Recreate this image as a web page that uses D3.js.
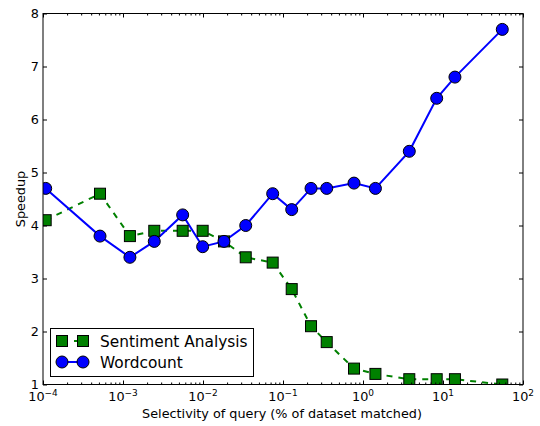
<!DOCTYPE html>
<html>
<head>
<meta charset="utf-8">
<script src="https://cdn.jsdelivr.net/npm/d3@7"></script>
<style>
  html, body { margin: 0; padding: 0; background: #fff; }
  svg { display: block; font-family: "DejaVu Sans", sans-serif; }
</style>
</head>
<body>
<svg id="chart" width="540" height="426"></svg>
<script>
// Query selectivity (% of dataset matched), shared by both workloads
const selectivity = [0.000108, 0.000516, 0.00122, 0.00246, 0.00557, 0.0099, 0.0183, 0.0342,
                     0.0743, 0.1285, 0.224, 0.352, 0.772, 1.43, 3.79, 8.34, 14.1, 55.1];
// Speedup per workload
const sentimentSpeedup = [4.1, 4.6, 3.8, 3.9, 3.9, 3.9, 3.7, 3.4, 3.3, 2.8, 2.1, 1.8, 1.3, 1.2, 1.1, 1.1, 1.1, 1.0];
const wordcountSpeedup = [4.7, 3.8, 3.4, 3.7, 4.2, 3.6, 3.7, 4.0, 4.6, 4.3, 4.7, 4.7, 4.8, 4.7, 5.4, 6.4, 6.8, 7.7];
// Axis ticks
const xMajorTicks = [1e-4, 1e-3, 1e-2, 1e-1, 1e0, 1e1, 1e2];
const xTickExponents = ["\u22124", "\u22123", "\u22122", "\u22121", "0", "1", "2"];
const yTicks = [1, 2, 3, 4, 5, 6, 7, 8];
const seriesNames = ["Sentiment Analysis", "Wordcount"];

const svg = d3.select("#chart");
const L = 43, R = 523, T = 13.5, B = 384.5;
const fontSize = 12.8, legendFontSize = 15.36;

const x = d3.scaleLog().domain([1e-4, 1e2]).range([L, R]);
const y = d3.scaleLinear().domain([1, 8]).range([B, T]);

// minor ticks 2..9 within each decade
const xMinorTicks = [];
for (let e = -4; e < 2; e++) for (let m = 2; m <= 9; m++) xMinorTicks.push(m * Math.pow(10, e));

svg.append("defs").append("clipPath").attr("id", "plotClip")
  .append("rect").attr("x", L).attr("y", T).attr("width", R - L).attr("height", B - T);

const plot = svg.append("g").attr("clip-path", "url(#plotClip)");

const sentiment = selectivity.map((s, i) => ({ s, v: sentimentSpeedup[i] }));
const wordcount = selectivity.map((s, i) => ({ s, v: wordcountSpeedup[i] }));
const line = d3.line().x(d => x(d.s)).y(d => y(d.v));

// Sentiment Analysis: green dashed line with squares
plot.append("path").datum(sentiment).attr("d", line)
  .attr("fill", "none").attr("stroke", "#008000").attr("stroke-width", 2)
  .attr("stroke-dasharray", "6,6");
// Wordcount: blue solid line with circles
plot.append("path").datum(wordcount).attr("d", line)
  .attr("fill", "none").attr("stroke", "#0000ff").attr("stroke-width", 2);

const sq = 11;
plot.selectAll("rect.sent").data(sentiment).enter().append("rect")
  .attr("x", d => x(d.s) - sq / 2).attr("y", d => y(d.v) - sq / 2)
  .attr("width", sq).attr("height", sq)
  .attr("fill", "#008000").attr("stroke", "#000").attr("stroke-width", 1);

plot.selectAll("circle.wc").data(wordcount).enter().append("circle")
  .attr("cx", d => x(d.s)).attr("cy", d => y(d.v)).attr("r", 6)
  .attr("fill", "#0000ff").attr("stroke", "#000").attr("stroke-width", 1);

// Ticks (inside, on all four sides)
function tickLines(axis, sel) {
  sel.call(axis);
  sel.select(".domain").remove();
  sel.selectAll("text").remove();
  sel.selectAll("line").attr("stroke", "#000").attr("stroke-width", 1);
}
tickLines(d3.axisBottom(x).tickValues(xMajorTicks).tickSize(-4).tickFormat(""),
  svg.append("g").attr("transform", `translate(0,${B})`));
tickLines(d3.axisBottom(x).tickValues(xMinorTicks).tickSize(-2).tickFormat(""),
  svg.append("g").attr("transform", `translate(0,${B})`));
tickLines(d3.axisTop(x).tickValues(xMajorTicks).tickSize(-4).tickFormat(""),
  svg.append("g").attr("transform", `translate(0,${T})`));
tickLines(d3.axisTop(x).tickValues(xMinorTicks).tickSize(-2).tickFormat(""),
  svg.append("g").attr("transform", `translate(0,${T})`));
tickLines(d3.axisLeft(y).tickValues(yTicks).tickSize(-4).tickFormat(""),
  svg.append("g").attr("transform", `translate(${L},0)`));
tickLines(d3.axisRight(y).tickValues(yTicks).tickSize(-4).tickFormat(""),
  svg.append("g").attr("transform", `translate(${R},0)`));

// Frame
svg.append("rect").attr("x", L).attr("y", T).attr("width", R - L).attr("height", B - T)
  .attr("fill", "none").attr("stroke", "#000").attr("stroke-width", 1);

// Tick labels
svg.append("g").selectAll("text").data(yTicks).enter().append("text")
  .attr("x", L - 4).attr("y", d => y(d)).attr("dy", "0.36em")
  .attr("text-anchor", "end").attr("font-size", fontSize).attr("fill", "#000")
  .text(d => d);

const xl = svg.append("g").selectAll("text").data(xMajorTicks).enter().append("text")
  .attr("x", d => x(d)).attr("y", B + 16.5)
  .attr("text-anchor", "middle").attr("font-size", fontSize).attr("fill", "#000");
xl.append("tspan").text("10");
xl.append("tspan").attr("dy", -5).attr("font-size", 8.96).text((d, i) => xTickExponents[i]);

// Axis titles
svg.append("text").attr("x", (L + R) / 2 - 1).attr("y", 418)
  .attr("text-anchor", "middle").attr("font-size", fontSize).attr("fill", "#000")
  .text("Selectivity of query (% of dataset matched)");
svg.append("text").attr("transform", `translate(25,${(T + B) / 2}) rotate(-90)`)
  .attr("text-anchor", "middle").attr("font-size", fontSize).attr("fill", "#000")
  .text("Speedup");

// Legend
const lg = svg.append("g");
lg.append("rect").attr("x", 50.5).attr("y", 328.5).attr("width", 203).attr("height", 48)
  .attr("fill", "#fff").attr("stroke", "#000").attr("stroke-width", 1);
const rows = [
  { name: seriesNames[0], y: 341, color: "#008000", dash: "6,6", shape: "square" },
  { name: seriesNames[1], y: 362, color: "#0000ff", dash: null, shape: "circle" }
];
rows.forEach(r => {
  lg.append("line").attr("x1", 62).attr("x2", 83).attr("y1", r.y).attr("y2", r.y)
    .attr("stroke", r.color).attr("stroke-width", 2).attr("stroke-dasharray", r.dash);
  [62, 83].forEach(cx => {
    if (r.shape === "square") {
      lg.append("rect").attr("x", cx - sq / 2).attr("y", r.y - sq / 2).attr("width", sq).attr("height", sq)
        .attr("fill", r.color).attr("stroke", "#000").attr("stroke-width", 1);
    } else {
      lg.append("circle").attr("cx", cx).attr("cy", r.y).attr("r", 6)
        .attr("fill", r.color).attr("stroke", "#000").attr("stroke-width", 1);
    }
  });
  lg.append("text").attr("x", 100).attr("y", r.y).attr("dy", "0.36em")
    .attr("font-size", legendFontSize).attr("fill", "#000").text(r.name);
});
</script>
</body>
</html>
